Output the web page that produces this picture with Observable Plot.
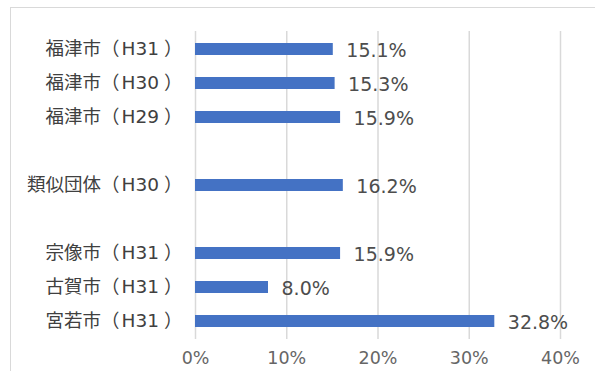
<!DOCTYPE html>
<html>
<head>
<meta charset="utf-8">
<script src="https://cdn.jsdelivr.net/npm/d3@7"></script>
<script src="https://cdn.jsdelivr.net/npm/@observablehq/plot@0.6"></script>
<style>
  html, body { margin: 0; padding: 0; background: #fff; overflow: hidden; }
  #wrap { position: relative; width: 595px; height: 371px; }
  #frame { position: absolute; left: 10px; top: 7px; width: 700px; height: 500px;
           border: 1.5px solid #d9d9d9; box-sizing: border-box; }
  #chart { position: absolute; left: 0; top: 0; }
</style>
</head>
<body>
<div id="wrap"><div id="frame"></div><div id="chart"></div></div>
<script>
// Row order from top to bottom; "gap" rows leave blank space between groups
const rows = ["福津市（H31）", "福津市（H30）", "福津市（H29）", "gap1",
              "類似団体（H30）", "gap2",
              "宗像市（H31）", "古賀市（H31）", "宮若市（H31）"];
const categories = ["福津市（H31）", "福津市（H30）", "福津市（H29）",
                    "類似団体（H30）", "宗像市（H31）", "古賀市（H31）", "宮若市（H31）"];
const values = [0.151, 0.153, 0.159, 0.162, 0.159, 0.080, 0.328];
const xTicks = [0, 0.1, 0.2, 0.3, 0.4];

const data = categories.map((c, i) => ({name: c, value: values[i]}));
const font = "'DejaVu Sans', 'Noto Sans CJK JP', sans-serif";
const rowLabel = d => d.startsWith("gap") ? "" : d;

const chart = Plot.plot({
  width: 595,
  height: 371,
  marginLeft: 195,
  marginRight: 35,
  marginTop: 31,
  marginBottom: 32,
  style: {fontFamily: font, fontSize: "16px", color: "#404040", background: "transparent"},
  x: {domain: [0, 0.4], ticks: xTicks, tickFormat: d3.format(".0%"), label: null},
  y: {domain: rows, paddingInner: 0.65, paddingOuter: 0.3, tickFormat: rowLabel, label: null},
  marks: [
    Plot.ruleX(xTicks, {stroke: "#d9d9d9", strokeWidth: 1.5}),
    Plot.barX(data, {x: "value", y: "name", fill: "#4472C4"}),
    Plot.text(data, {x: "value", y: "name", text: d => d3.format(".1%")(d.value),
                     textAnchor: "start", dx: 13, dy: 1, fill: "#4d4d4d", fontSize: 19}),
    Plot.axisX({ticks: xTicks, tickFormat: d3.format(".0%"), tickSize: 0, tickPadding: 12,
                fill: "#666666", fontSize: 17.5, label: null}),
    Plot.axisY({tickSize: 0, tickPadding: 13, fill: "#404040", fontSize: 18.5,
                tickFormat: rowLabel, label: null})
  ]
});

// Loosen the spacing around the year part of each row label
d3.select(chart).selectAll("g[aria-label='y-axis tick label'] text").each(function () {
  const label = this.textContent;
  const m = label.match(/^(.*（)(.*)(）)$/);
  if (!m) return;
  const t = d3.select(this).text("");
  t.append("tspan").text(m[1]);
  t.append("tspan").attr("dx", 2).text(m[2]);
  t.append("tspan").attr("dx", 5).text(m[3]);
});

document.getElementById("chart").appendChild(chart);
</script>
</body>
</html>
